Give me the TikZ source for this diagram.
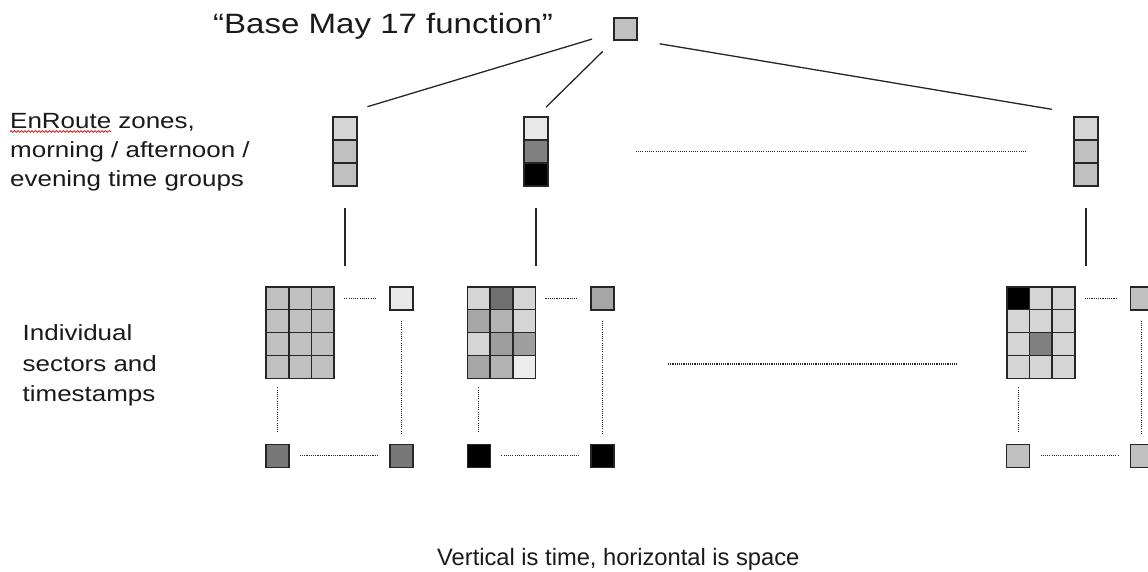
\documentclass[tikz,border=0pt]{standalone}
\usepackage{fontspec}
\setmainfont{Liberation Sans}
\newfontfamily\widesans[FakeStretch=1.18]{Liberation Sans}
\usetikzlibrary{calc,decorations.pathmorphing}

% fills used by the cells
\definecolor{edge}{HTML}{262626}
\definecolor{ink}{HTML}{1A1A1A}
\definecolor{gA}{HTML}{C0C0C0}
\definecolor{gL}{HTML}{D5D5D5}
\definecolor{gE}{HTML}{E8E8E8}
\definecolor{gD}{HTML}{787878}
\definecolor{gM}{HTML}{A6A6A6}
\definecolor{gN}{HTML}{B2B2B2}
\definecolor{gP}{HTML}{9E9E9E}
\definecolor{gK}{HTML}{808080}
\definecolor{gW}{HTML}{ECECEC}
\definecolor{gV}{HTML}{707070}

% one 3x4 block of sector cells, top left corner at x = #2
\newcommand\sectorgrid[6]{%
  \foreach \rowcols [count=\r from 0] in {{#3},{#4},{#5},{#6}}{%
    \foreach \fc [count=\c from 0] in \rowcols{%
      \node[cell, fill=\fc] (#1-\r-\c) at ({#2+11.35+22.7*\c},{298.15+22.9*\r}) {};
    }%
  }%
}

\begin{document}
\begin{tikzpicture}[x=1pt,y=-1pt,
  cell/.style={draw=edge, line width=1.6pt, inner sep=0pt, outer sep=0pt,
               minimum width=22.7pt, minimum height=22.9pt},
  sbox/.style={cell, minimum width=23pt, minimum height=23pt},
  zbox/.style={cell, minimum width=23.5pt, minimum height=23pt},
  conn/.style={draw=edge, line width=1.3pt},
  dots/.style={draw=edge, line width=1.1pt, dash pattern=on 1.1pt off 1.1pt},
  lab/.style={font=\widesans\fontsize{22}{29}\selectfont, text=ink, inner sep=0pt, anchor=base west},
  ttl/.style={font=\widesans\fontsize{28}{34}\selectfont, text=ink, inner sep=0pt, anchor=base west},
  notetext/.style={font=\fontsize{23.7}{29}\selectfont, text=ink, inner sep=0pt, anchor=base west}]
\clip (0,0) rectangle (1148,571);
\fill[white] (0,0) rectangle (1148,571);

% ---- labels ----
\node[ttl] (title) at (213,33) {“Base May 17 function”};
\node[lab] (enr1) at (10,128) {EnRoute zones,};
\node[lab] (enr2) at (10,157) {morning / afternoon /};
\node[lab] (enr3) at (10,186) {evening time groups};
\draw[red!85!black, line width=0.7pt, decorate,
      decoration={snake, amplitude=0.9pt, segment length=3.5pt}] (10,131.5) -- (111,131.5);
\node[lab] (ind1) at (22.5,340.7) {Individual};
\node[lab] (ind2) at (22.5,371.2) {sectors and};
\node[lab] (ind3) at (22.5,401.7) {timestamps};
\node[notetext] (note) at (437,565) {Vertical is time, horizontal is space};

% ---- base function ----
\node[zbox, minimum width=23pt, minimum height=22pt, fill=gA] (top) at (625.5,29) {};

% ---- zone stacks: morning / afternoon / evening ----
\node[zbox, fill=gL] (s1a) at (345,128.5) {};
\node[zbox, fill=gA] (s1b) at (345,151.5) {};
\node[zbox, fill=gA] (s1c) at (345,174.5) {};
\node[zbox, fill=gE] (s2a) at (536,128.5) {};
\node[zbox, fill=gK] (s2b) at (536,151.5) {};
\node[zbox, fill=black] (s2c) at (536,174.5) {};
\node[zbox, fill=gL] (s3a) at (1086,128.5) {};
\node[zbox, fill=gA] (s3b) at (1086,151.5) {};
\node[zbox, fill=gA] (s3c) at (1086,174.5) {};

\draw[conn, shorten <=35pt, shorten >=35.7pt] (top.center) -- (s1a.north west);
\draw[conn, shorten <=32pt, shorten >=14pt] (top.center) -- (s2a.north);
\draw[conn, shorten <=23pt, shorten >=46.6pt] (top.south east) -- (s3a.north east);
\draw[dots, shorten <=88pt, shorten >=47.5pt] (s2b.east) -- (s3b.west);

% ---- sector blocks ----
\sectorgrid{g1}{266}{gA,gA,gA}{gA,gA,gA}{gA,gA,gA}{gA,gA,gA}
\sectorgrid{g2}{467.3}{gL,gV,gL}{gM,gN,gL}{gL,gP,gP}{gM,gN,gW}
\sectorgrid{g3}{1006.7}{black,gL,gL}{gL,gL,gL}{gL,gK,gL}{gL,gL,gL}

\draw[conn, shorten <=21.5pt, shorten >=20.7pt] (s1c.south) -- (s1c.south |- g1-0-0.north);
\draw[conn, shorten <=21.5pt, shorten >=20.7pt] (s2c.south) -- (s2c.south |- g2-0-0.north);
\draw[conn, shorten <=21.5pt, shorten >=20.7pt] (s3c.south) -- (s3c.south |- g3-0-0.north);

% corner timestamps of each block
\node[sbox, fill=gE] (g1tr) at (401.2,298.5) {};
\node[sbox, fill=gD] (g1bl) at (277.3,455.8) {};
\node[sbox, fill=gD] (g1br) at (401.2,455.8) {};
\node[sbox, fill=gM] (g2tr) at (602.7,298.5) {};
\node[sbox, fill=black] (g2bl) at (478.8,455.8) {};
\node[sbox, fill=black] (g2br) at (602.7,455.8) {};
\node[sbox, fill=gA] (g3tr) at (1141.8,298.5) {};
\node[sbox, fill=gA] (g3bl) at (1018,455.8) {};
\node[sbox, fill=gA] (g3br) at (1141.8,455.8) {};

\foreach \g in {g1,g2,g3}{
  \draw[dots, shorten <=10pt, shorten >=13pt] (\g-0-2.east) -- (\g-0-2.east -| \g tr.west);
  \draw[dots, shorten <=9pt, shorten >=11pt] (\g-3-0.south) -- (\g-3-0.south |- \g bl.north);
  \draw[dots, shorten <=10.5pt, shorten >=11pt] (\g tr.south) -- (\g br.north);
  \draw[dots, shorten <=11pt, shorten >=11pt] (\g bl.east) -- (\g br.west);
}

% gap between the blocks
\coordinate (gapL) at (668,364);
\coordinate (gapR) at (958,364);
\draw[dots] (gapL) -- (gapR);
\end{tikzpicture}
\end{document}
